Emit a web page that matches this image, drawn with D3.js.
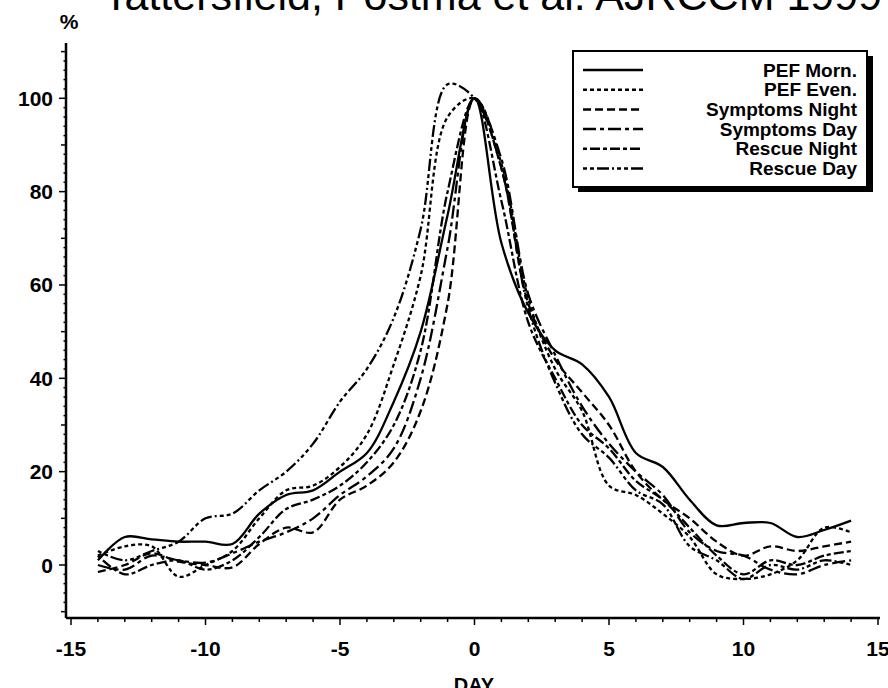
<!DOCTYPE html>
<html>
<head>
<meta charset="utf-8">
<script src="https://cdn.jsdelivr.net/npm/d3@7"></script>
<style>
  html, body { margin: 0; padding: 0; background: #fff; }
  svg { display: block; }
  text { font-family: "Liberation Sans", Arial, Helvetica, sans-serif; fill: #000; }
</style>
</head>
<body>
<svg id="chart" width="888" height="688"></svg>
<script>
// ---- data ----
const titleText = "Tattersfield, Postma et al. AJRCCM 1999";
const days = [-14,-13,-12,-11,-10,-9,-8,-7,-6,-5,-4,-3,-2,-1,0,1,2,3,4,5,6,7,8,9,10,11,12,13,14];
const pefMorn   = [1, 6, 5.5, 5, 5, 4.5, 11, 15, 16, 20, 24, 35, 50, 75, 100, 69, 54, 46, 43, 36, 24, 21, 14, 8.5, 9, 9, 6, 7.5, 9.5];
const pefEven   = [2, 4, 4, -2.5, 0, 3, 10, 16, 17, 21, 28, 43, 62, 96, 100, 86, 57, 42, 33, 17, 15, 11, 6, -2, -3, -2, 1, 8, 7];
const symNight  = [-1.5, 0, 2.5, 0.7, 0, -0.5, 4.5, 8, 7, 14, 17, 22, 33, 56, 100, 85, 56, 44, 37, 30, 20, 14, 10, 5, 2, 4, 3, 4, 5];
const symDay    = [0, -1, 2, 1, 0.5, 2.5, 5, 7, 10, 15, 19, 25, 40, 68, 100, 87, 58, 45, 34, 26, 20, 15, 7, 3, 2, -1, -2, 0, 1];
const resNight  = [2, -2, 0, 1, -1, 1, 6, 12, 14, 17, 22, 30, 46, 80, 100, 78, 52, 40, 30, 25, 18, 14, 8, 2, -2, 1, 0, 2, 3];
const resDay    = [3, 1, 3, 5, 10, 11, 16, 20, 26, 35, 42, 53, 72, 103, 100, 85, 55, 39, 28, 23, 16, 13, 4, 1, -3, 0, -1, 1, 0];
const seriesNames = ["PEF Morn.", "PEF Even.", "Symptoms Night", "Symptoms Day", "Rescue Night", "Rescue Day"];
const seriesValues = [pefMorn, pefEven, symNight, symDay, resNight, resDay];
const dashes = ["none", "4,3", "8,4", "13,4,4,4", "4,3,10,3", "4,3,4,3,12,3,2,3"];
const xTickLabels = [-15, -10, -5, 0, 5, 10, 15];
const yTickLabels = [0, 20, 40, 60, 80, 100];

// ---- layout ----
const svg = d3.select("#chart");
const x = d3.scaleLinear().domain([-15, 15]).range([71, 878]);
const y = d3.scaleLinear().domain([0, 100]).range([565, 98.3]);
const yMin = y.invert(618), yMax = y.invert(43);
const xLeft = 66, xRight = 880;

// title (top clipped)
svg.append("text").attr("x", 103).attr("y", 10)
  .attr("font-size", 43).attr("font-weight", "normal").text(titleText);

// % label
svg.append("text").attr("x", 69).attr("y", 29).attr("text-anchor", "middle")
  .attr("font-size", 21).attr("font-weight", "bold").text("%");

// y axis
const gy = svg.append("g");
gy.append("line").attr("x1", xLeft).attr("x2", xLeft).attr("y1", y(yMax)).attr("y2", y(yMin))
  .attr("stroke", "#000").attr("stroke-width", 2.5);
const yMinor = d3.range(-10, 112, 2);
gy.selectAll("line.t").data(yMinor).join("line").attr("class", "t")
  .attr("x1", xLeft).attr("x2", d => xLeft - (d % 20 === 0 ? 7 : d % 10 === 0 ? 5 : 2.5))
  .attr("y1", d => y(d)).attr("y2", d => y(d)).attr("stroke", "#000").attr("stroke-width", 1.5);
gy.selectAll("text").data(yTickLabels).join("text")
  .attr("x", 53).attr("y", d => y(d) + 7.5).attr("text-anchor", "end")
  .attr("font-size", 21).attr("font-weight", "bold").text(d => d);

// x axis
const gx = svg.append("g");
gx.append("line").attr("x1", xLeft).attr("x2", xRight).attr("y1", 618).attr("y2", 618)
  .attr("stroke", "#000").attr("stroke-width", 2.5);
const xMinor = d3.range(-15, 16, 1);
gx.selectAll("line.t").data(xMinor).join("line").attr("class", "t")
  .attr("x1", d => x(d)).attr("x2", d => x(d))
  .attr("y1", 618).attr("y2", d => 618 + (d % 5 === 0 ? 7 : 4))
  .attr("stroke", "#000").attr("stroke-width", 1.5);
gx.selectAll("text").data(xTickLabels).join("text")
  .attr("x", d => x(d)).attr("y", 656).attr("text-anchor", "middle")
  .attr("font-size", 21).attr("font-weight", "bold").text(d => (d < 0 ? "-" + Math.abs(d) : d));
svg.append("text").attr("x", 474).attr("y", 692).attr("text-anchor", "middle")
  .attr("font-size", 20).attr("font-weight", "bold").text("DAY");

// lines
const line = d3.line().x(d => x(d[0])).y(d => y(d[1])).curve(d3.curveCatmullRom.alpha(0.5));
seriesValues.forEach((vals, i) => {
  svg.append("path").datum(days.map((d, j) => [d, vals[j]]))
    .attr("d", line).attr("fill", "none").attr("stroke", "#000")
    .attr("stroke-width", 2.3).attr("stroke-dasharray", dashes[i])
    .attr("stroke-linejoin", "round");
});

// legend
const lg = svg.append("g");
lg.append("rect").attr("x", 578).attr("y", 56).attr("width", 295).attr("height", 136).attr("fill", "#000");
lg.append("rect").attr("x", 573).attr("y", 51).attr("width", 294).attr("height", 136)
  .attr("fill", "#fff").attr("stroke", "#000").attr("stroke-width", 2);
seriesNames.forEach((name, i) => {
  const ry = 70 + i * 19.7;
  lg.append("line").attr("x1", 583).attr("x2", 643).attr("y1", ry).attr("y2", ry)
    .attr("stroke", "#000").attr("stroke-width", 2.5).attr("stroke-dasharray", dashes[i]);
  lg.append("text").attr("x", 857).attr("y", ry + 6.5).attr("text-anchor", "end")
    .attr("font-size", 19).attr("font-weight", "bold").text(name);
});
</script>
</body>
</html>
